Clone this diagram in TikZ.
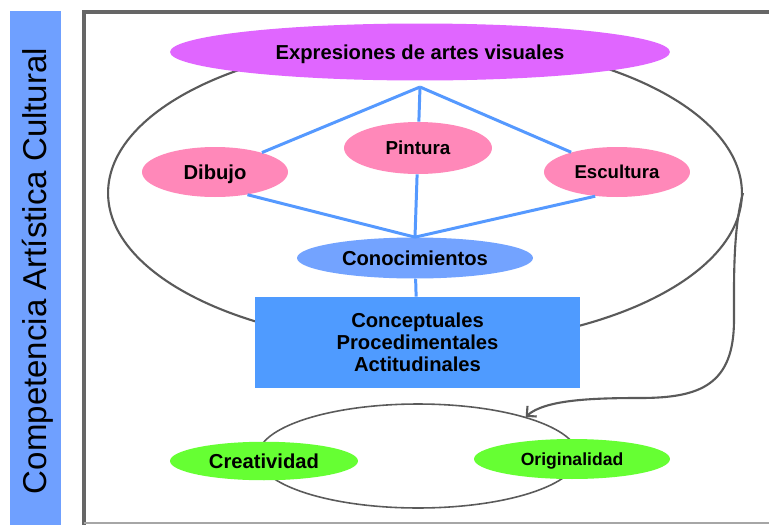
\documentclass[tikz,border=0pt]{standalone}
\usepackage{fontspec}
\setmainfont{Liberation Sans}
\usetikzlibrary{shapes.geometric,arrows.meta}
\definecolor{barblue}{RGB}{111,160,255}
\definecolor{titleviolet}{RGB}{224,102,255}
\definecolor{artpink}{RGB}{255,136,185}
\definecolor{knowblue}{RGB}{115,163,255}
\definecolor{boxblue}{RGB}{79,155,255}
\definecolor{skillgreen}{RGB}{102,255,51}
\definecolor{linkblue}{RGB}{85,153,255}
\definecolor{framegray}{RGB}{102,102,102}
\definecolor{ovalgray}{RGB}{90,90,90}

\begin{document}
\begin{tikzpicture}[x=0.02cm,y=-0.02cm,
    side_label/.style={text=black,font=\fontsize{18.8}{20}\selectfont},
    title_node/.style={ellipse,fill=titleviolet,inner sep=0pt,text depth=0pt,minimum width=10cm,minimum height=1.14cm,text=black,font=\fontsize{11.5}{13}\selectfont\bfseries},
    art_node/.style={ellipse,fill=artpink,inner sep=0pt,text depth=0pt,minimum width=2.92cm,minimum height=1.0cm,text=black,font=\fontsize{11.5}{13}\selectfont\bfseries},
    know_node/.style={ellipse,fill=knowblue,inner sep=0pt,text depth=0pt,minimum width=4.72cm,minimum height=0.82cm,text=black,font=\fontsize{11.5}{13}\selectfont\bfseries},
    content_box/.style={rectangle,fill=boxblue,inner sep=0pt,minimum width=6.5cm,minimum height=1.82cm,align=center,text=black,font=\fontsize{11.5}{12.6}\selectfont\bfseries},
    skill_node/.style={ellipse,fill=skillgreen,inner sep=0pt,text depth=0pt,minimum height=0.77cm,text=black,font=\fontsize{11.5}{13}\selectfont\bfseries},
    big_oval/.style={ellipse,draw=ovalgray,line width=1.2pt,inner sep=0pt,minimum width=12.68cm,minimum height=6.08cm},
    small_oval/.style={ellipse,draw=ovalgray,line width=0.9pt,inner sep=0pt,minimum width=6.4cm,minimum height=2.08cm},
    link_edge/.style={linkblue,line width=1.7pt},
    frame_edge/.style={framegray,line width=2.6pt},
    frame_base/.style={black!35,line width=0.9pt},
    loop_arrow/.style={ovalgray,line width=1.2pt,-{Straight Barb[length=4pt,width=8pt]}}]
  \clip (0,0) rectangle (769,525);
  \fill[white] (0,0) rectangle (769,525);
  \fill[barblue] (10,11) rectangle (61,527);
  \node[side_label,rotate=90,anchor=base] (side) at (47,271) {Competencia Artística Cultural};
  \draw[frame_edge] (84,530) -- (84,12) -- (780,12);
  \draw[frame_base] (84,523) -- (780,523);
\node[big_oval] (orbit) at (425,193) {};
\node[title_node] (expr) at (420,52) {Expresiones de artes visuales};
\coordinate (hub) at (420,87);
\node[art_node] (dibujo) at (215,172) {Dibujo};
\node[art_node,minimum width=2.96cm,minimum height=1.04cm,font=\fontsize{10.7}{12}\selectfont\bfseries] (pintura) at (418,148) {Pintura};
\node[art_node,font=\fontsize{10.6}{12}\selectfont\bfseries] (escultura) at (617,172) {Escultura};
\node[know_node] (conoc) at (415,258) {Conocimientos};
\node[content_box] (saberes) at (417.5,342.5) {Conceptuales\\Procedimentales\\Actitudinales};
\draw[link_edge] (hub) -- (dibujo);
\draw[link_edge] (hub) -- (pintura);
\draw[link_edge] (hub) -- (escultura);
\draw[link_edge] (dibujo.-35) -- (conoc.north);
\draw[link_edge] (pintura) -- (conoc.north);
\draw[link_edge] (escultura.-132) -- (conoc.north);
\draw[link_edge] (conoc) -- (saberes);
\node[small_oval] (ring) at (418,456) {};
\node[skill_node,minimum width=3.76cm] (creat) at (264,461) {Creatividad};
\node[skill_node,minimum width=3.92cm,minimum height=0.8cm,font=\fontsize{10}{12}\selectfont\bfseries] (orig) at (572,459) {Originalidad};
\draw[loop_arrow] (orbit.east) .. controls (733,230) and (734,280) .. (734,320) .. controls (734,385) and (700,398) .. (640,398) .. controls (590,398) and (545,400) .. (ring.20);
\end{tikzpicture}
\end{document}
